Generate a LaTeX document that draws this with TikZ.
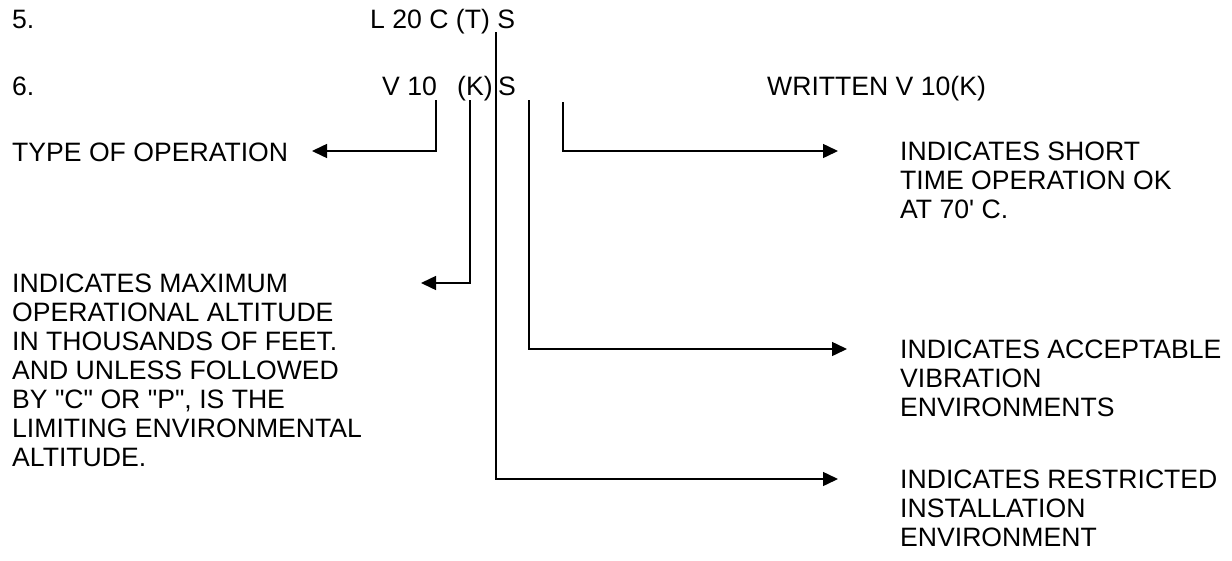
\documentclass[tikz,border=0pt]{standalone}
\usepackage{fontspec}
\setmainfont{Liberation Sans}[Ligatures=TeXOff]
\usetikzlibrary{arrows.meta}
\begin{document}
\begin{tikzpicture}[x=1pt,y=-1pt,
  lbl/.style={inner sep=0pt, font=\fontsize{26.6}{29}\selectfont},
  blk/.style={lbl, align=left, anchor=north west},
  lead/.style={line width=1.5pt},
  ptr/.style={lead, -{Triangle[length=15pt,width=14pt]}}]
\useasboundingbox (0,0) rectangle (1232,560);

% designation codes
\node[lbl,anchor=base west] (n5) at (12,28) {5.};
\node[lbl,anchor=base west] (code5) at (370,28) {L 20 C (T) S};
\node[lbl,anchor=base west] (n6) at (12,95) {6.};
\node[lbl,anchor=base west] (v10) at (382,95) {V 10};
\node[lbl,anchor=base west] (k) at (457,95) {(K)};
\node[lbl,anchor=base west] (s6) at (498,95) {S};
\node[lbl,anchor=base west] (written) at (767,95) {WRITTEN V 10(K)};

% explanations
\node[lbl,anchor=base west] (type) at (12,161) {TYPE OF OPERATION};
\node[blk] (alt) at (12,273.5) {INDICATES MAXIMUM\\OPERATIONAL ALTITUDE\\IN THOUSANDS OF FEET.\\AND UNLESS FOLLOWED\\BY "C" OR "P", IS THE\\LIMITING ENVIRONMENTAL\\ALTITUDE.};
\node[blk] (short) at (900,142) {INDICATES SHORT\\TIME OPERATION OK\\AT 70' C.};
\node[blk] (vib) at (900,339.5) {INDICATES ACCEPTABLE\\VIBRATION\\ENVIRONMENTS};
\node[blk] (inst) at (900,469.5) {INDICATES RESTRICTED\\INSTALLATION\\ENVIRONMENT};

% leader lines
\coordinate (typeTop) at (436,100);  \coordinate (typeTip) at (312,151);
\coordinate (altTop) at (470,100);   \coordinate (altTip) at (421,283);
\coordinate (shortTop) at (563,102); \coordinate (shortTip) at (838,151);
\coordinate (vibTop) at (529,100);   \coordinate (vibTip) at (847,349);
\coordinate (instTop) at (496,32);   \coordinate (instTip) at (838,479);

\draw[ptr] (typeTop) |- (typeTip);
\draw[ptr] (altTop) |- (altTip);
\draw[ptr] (shortTop) |- (shortTip);
\draw[ptr] (vibTop) |- (vibTip);
\draw[ptr] (instTop) |- (instTip);
\end{tikzpicture}
\end{document}
